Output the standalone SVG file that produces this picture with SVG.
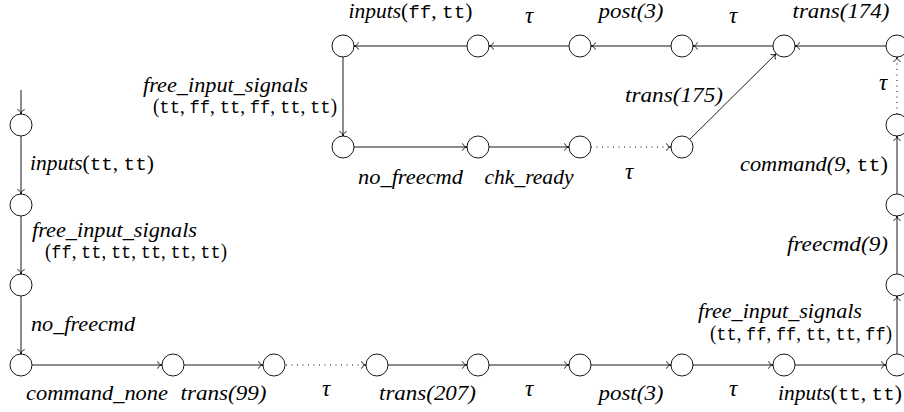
<svg xmlns="http://www.w3.org/2000/svg" width="904" height="412" viewBox="0 0 904 412">
<defs>
<style>
.n{fill:#fff;stroke:#000;stroke-width:0.9}
.e{fill:none;stroke:#000;stroke-width:0.9}
.d{fill:none;stroke:#000;stroke-width:1;stroke-dasharray:1 4.5}
text{font-family:"Liberation Serif","Times New Roman",serif;font-style:italic;font-size:20px;fill:#000}
.c{text-anchor:middle}
.t{font-size:23px}
.u{font-style:normal}
.m{font-family:"Liberation Mono","Courier New",monospace;font-style:normal;font-size:18px}
</style>
<marker id="ar" viewBox="-6 -5 7 10" refX="0" refY="0" markerWidth="7" markerHeight="10" markerUnits="userSpaceOnUse" orient="auto">
<path d="M-4.5,-3.6 C-3.8,-1.4 -1.8,-0.4 0,0 C-1.8,0.4 -3.8,1.4 -4.5,3.6" fill="none" stroke="#000" stroke-width="0.9"/>
</marker>
</defs>
<rect width="904" height="412" fill="#fff"/>
<g id="connectors">
<line class="e" x1="21" y1="90" x2="21" y2="114" marker-end="url(#ar)"/>
<line class="e" x1="21" y1="136" x2="21" y2="194" marker-end="url(#ar)"/>
<line class="e" x1="21" y1="216" x2="21" y2="274" marker-end="url(#ar)"/>
<line class="e" x1="21" y1="296" x2="21" y2="354" marker-end="url(#ar)"/>
<line class="e" x1="32" y1="365" x2="162" y2="365" marker-end="url(#ar)"/>
<line class="e" x1="184" y1="365" x2="263" y2="365" marker-end="url(#ar)"/>
<line class="d" x1="286" y1="365" x2="366" y2="365"/>
<line class="e" x1="362" y1="365" x2="366" y2="365" marker-end="url(#ar)" style="stroke:none"/>
<line class="e" x1="388" y1="365" x2="467" y2="365" marker-end="url(#ar)"/>
<line class="e" x1="489" y1="365" x2="569" y2="365" marker-end="url(#ar)"/>
<line class="e" x1="591" y1="365" x2="671" y2="365" marker-end="url(#ar)"/>
<line class="e" x1="693" y1="365" x2="773" y2="365" marker-end="url(#ar)"/>
<line class="e" x1="795" y1="365" x2="886" y2="365" marker-end="url(#ar)"/>
<line class="e" x1="897" y1="354" x2="897" y2="296" marker-end="url(#ar)"/>
<line class="e" x1="897" y1="274" x2="897" y2="216" marker-end="url(#ar)"/>
<line class="e" x1="897" y1="194" x2="897" y2="136" marker-end="url(#ar)"/>
<line class="d" x1="897" y1="114" x2="897" y2="57"/>
<line class="e" x1="897" y1="61" x2="897" y2="57" marker-end="url(#ar)" style="stroke:none"/>
<line class="e" x1="886" y1="46" x2="795" y2="46" marker-end="url(#ar)"/>
<line class="e" x1="773" y1="46" x2="693" y2="46" marker-end="url(#ar)"/>
<line class="e" x1="671" y1="46" x2="591" y2="46" marker-end="url(#ar)"/>
<line class="e" x1="569" y1="46" x2="489" y2="46" marker-end="url(#ar)"/>
<line class="e" x1="467" y1="46" x2="354" y2="46" marker-end="url(#ar)"/>
<line class="e" x1="343" y1="57" x2="343" y2="136" marker-end="url(#ar)"/>
<line class="e" x1="354" y1="147" x2="467" y2="147" marker-end="url(#ar)"/>
<line class="e" x1="489" y1="147" x2="569" y2="147" marker-end="url(#ar)"/>
<line class="d" x1="591" y1="147" x2="671" y2="147"/>
<line class="e" x1="667" y1="147" x2="671" y2="147" marker-end="url(#ar)" style="stroke:none"/>
<line class="e" x1="689.8" y1="139.3" x2="776.2" y2="53.7" marker-end="url(#ar)"/>
</g>
<g id="nodes">
<g id="s0"><circle class="n" cx="21" cy="125" r="11"/></g>
<g id="s1"><circle class="n" cx="21" cy="205" r="11"/></g>
<g id="s2"><circle class="n" cx="21" cy="285" r="11"/></g>
<g id="s3"><circle class="n" cx="21" cy="365" r="11"/></g>
<g id="s4"><circle class="n" cx="173" cy="365" r="11"/></g>
<g id="s5"><circle class="n" cx="274" cy="365" r="11"/></g>
<g id="s6"><circle class="n" cx="377" cy="365" r="11"/></g>
<g id="s7"><circle class="n" cx="478" cy="365" r="11"/></g>
<g id="s8"><circle class="n" cx="580" cy="365" r="11"/></g>
<g id="s9"><circle class="n" cx="682" cy="365" r="11"/></g>
<g id="s10"><circle class="n" cx="784" cy="365" r="11"/></g>
<g id="s11"><circle class="n" cx="897" cy="365" r="11"/></g>
<g id="s12"><circle class="n" cx="897" cy="285" r="11"/></g>
<g id="s13"><circle class="n" cx="897" cy="205" r="11"/></g>
<g id="s14"><circle class="n" cx="897" cy="125" r="11"/></g>
<g id="s15"><circle class="n" cx="897" cy="46" r="11"/></g>
<g id="s16"><circle class="n" cx="784" cy="46" r="11"/></g>
<g id="s17"><circle class="n" cx="682" cy="46" r="11"/></g>
<g id="s18"><circle class="n" cx="580" cy="46" r="11"/></g>
<g id="s19"><circle class="n" cx="478" cy="46" r="11"/></g>
<g id="s20"><circle class="n" cx="343" cy="46" r="11"/></g>
<g id="s21"><circle class="n" cx="343" cy="147" r="11"/></g>
<g id="s22"><circle class="n" cx="478" cy="147" r="11"/></g>
<g id="s23"><circle class="n" cx="580" cy="147" r="11"/></g>
<g id="s24"><circle class="n" cx="682" cy="147" r="11"/></g>
</g>
<g id="labels">
<text x="30" y="170" textLength="124" lengthAdjust="spacingAndGlyphs">inputs<tspan class="u">(</tspan><tspan class="m">tt</tspan><tspan class="u">, </tspan><tspan class="m">tt</tspan><tspan class="u">)</tspan></text>
<text x="32" y="237" textLength="165" lengthAdjust="spacingAndGlyphs">free_input_signals</text>
<text x="45" y="258" textLength="182" lengthAdjust="spacingAndGlyphs"><tspan class="u">(</tspan><tspan class="m">ff</tspan><tspan class="u">, </tspan><tspan class="m">tt</tspan><tspan class="u">, </tspan><tspan class="m">tt</tspan><tspan class="u">, </tspan><tspan class="m">tt</tspan><tspan class="u">, </tspan><tspan class="m">tt</tspan><tspan class="u">, </tspan><tspan class="m">tt</tspan><tspan class="u">)</tspan></text>
<text x="31" y="331" textLength="104" lengthAdjust="spacingAndGlyphs">no_freecmd</text>
<text class="c" x="97" y="400" textLength="142" lengthAdjust="spacingAndGlyphs">command_none</text>
<text class="c" x="223.5" y="400" textLength="86" lengthAdjust="spacingAndGlyphs">trans(99)</text>
<text class="c t" x="326" y="396">τ</text>
<text class="c" x="427.5" y="400" textLength="97" lengthAdjust="spacingAndGlyphs">trans(207)</text>
<text class="c t" x="529" y="396">τ</text>
<text class="c" x="631" y="400" textLength="65" lengthAdjust="spacingAndGlyphs">post(3)</text>
<text class="c t" x="733" y="396">τ</text>
<text class="c" x="840" y="400" textLength="124" lengthAdjust="spacingAndGlyphs">inputs<tspan class="u">(</tspan><tspan class="m">tt</tspan><tspan class="u">, </tspan><tspan class="m">tt</tspan><tspan class="u">)</tspan></text>
<text x="698" y="318" textLength="164" lengthAdjust="spacingAndGlyphs">free_input_signals</text>
<text x="710" y="340" textLength="182" lengthAdjust="spacingAndGlyphs"><tspan class="u">(</tspan><tspan class="m">tt</tspan><tspan class="u">, </tspan><tspan class="m">ff</tspan><tspan class="u">, </tspan><tspan class="m">ff</tspan><tspan class="u">, </tspan><tspan class="m">tt</tspan><tspan class="u">, </tspan><tspan class="m">tt</tspan><tspan class="u">, </tspan><tspan class="m">ff</tspan><tspan class="u">)</tspan></text>
<text x="787" y="251" textLength="101" lengthAdjust="spacingAndGlyphs">freecmd(9)</text>
<text x="740" y="171" textLength="148" lengthAdjust="spacingAndGlyphs">command(9<tspan class="u">, </tspan><tspan class="m">tt</tspan><tspan class="u">)</tspan></text>
<text class="c t" x="883" y="90">τ</text>
<text class="c" x="841" y="18" textLength="97" lengthAdjust="spacingAndGlyphs">trans(174)</text>
<text class="c t" x="733" y="23">τ</text>
<text class="c" x="631" y="18" textLength="65" lengthAdjust="spacingAndGlyphs">post(3)</text>
<text class="c t" x="529" y="23">τ</text>
<text class="c" x="410.5" y="18" textLength="124" lengthAdjust="spacingAndGlyphs">inputs<tspan class="u">(</tspan><tspan class="m">ff</tspan><tspan class="u">, </tspan><tspan class="m">tt</tspan><tspan class="u">)</tspan></text>
<text x="625" y="102" textLength="98" lengthAdjust="spacingAndGlyphs">trans(175)</text>
<text x="143" y="92" textLength="165" lengthAdjust="spacingAndGlyphs">free_input_signals</text>
<text x="153" y="113" textLength="184" lengthAdjust="spacingAndGlyphs"><tspan class="u">(</tspan><tspan class="m">tt</tspan><tspan class="u">, </tspan><tspan class="m">ff</tspan><tspan class="u">, </tspan><tspan class="m">tt</tspan><tspan class="u">, </tspan><tspan class="m">ff</tspan><tspan class="u">, </tspan><tspan class="m">tt</tspan><tspan class="u">, </tspan><tspan class="m">tt</tspan><tspan class="u">)</tspan></text>
<text class="c" x="410.5" y="184" textLength="105" lengthAdjust="spacingAndGlyphs">no_freecmd</text>
<text class="c" x="529" y="184" textLength="89" lengthAdjust="spacingAndGlyphs">chk_ready</text>
<text class="c t" x="629" y="179">τ</text>
</g>
</svg>
